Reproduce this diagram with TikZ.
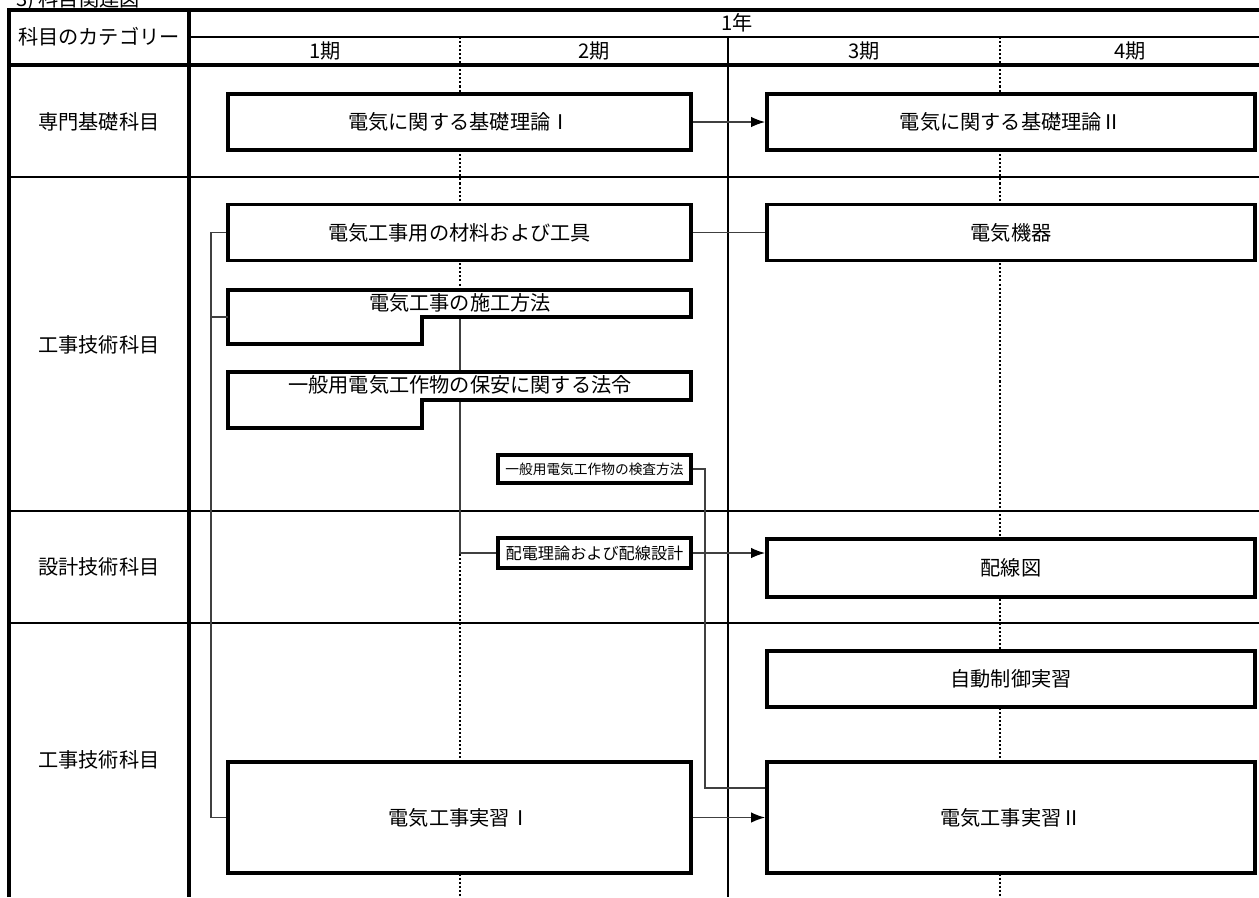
\documentclass[tikz,border=0pt]{standalone}
\usepackage{fontspec}
\setmainfont{Noto Sans CJK JP}
\usetikzlibrary{arrows.meta}
\tikzset{
    subj/.style={draw, fill=white, line width=2.2pt, inner sep=0pt, minimum height=1.12cm},
    lbox/.style={subj, minimum width=9.26cm},
    rbox/.style={subj, minimum width=9.76cm},
    tinybox/.style={subj, minimum width=3.86cm, minimum height=0.56cm, font=\fontsize{7.8pt}{9pt}\selectfont},
    link/.style={draw=black!75, line width=0.85pt},
    tip/.style={-{Latex[length=8pt,width=6pt,color=black]}},
    heavy/.style={line width=2.4pt},
    rule/.style={line width=1.15pt},
    period/.style={line width=1.15pt, dash pattern=on 1.15pt off 1.15pt}
}
\begin{document}
\begin{tikzpicture}[x=0.02cm, y=-0.02cm, font=\fontsize{11.5pt}{13pt}\selectfont]
                \useasboundingbox (0,0) rectangle (1259,897);
                \node[anchor=base west] (0) at (10,6) {3) 科目関連図};
                % table
                \draw[period] (460,37) to (460,897);
                \draw[period] (1000,37) to (1000,897);
                \draw[rule] (728,37) to (728,897);
                \draw[rule] (189,37) to (1259,37);
                \draw[rule] (9,177) to (1259,177);
                \draw[rule] (9,511) to (1259,511);
                \draw[rule] (9,623) to (1259,623);
                \draw[heavy] (9,897) to (9,10) to (1259,10);
                \draw[heavy] (9,65) to (1259,65);
                \draw[heavy] (189,10) to (189,897);
                \node (1) at (99,37) {科目のカテゴリー};
                \node (2) at (737,23) {1年};
                \node (3) at (325,51) {1期};
                \node (4) at (594,51) {2期};
                \node (5) at (864,51) {3期};
                \node (6) at (1130,51) {4期};
                \node (7) at (99,122) {専門基礎科目};
                \node (8) at (99,345) {工事技術科目};
                \node (9) at (99,567) {設計技術科目};
                \node (10) at (99,760) {工事技術科目};
                % hidden under the boxes
                \coordinate (15s) at (460,317);
                \coordinate (18w) at (498,553);
                \draw[link] (15s) |- (18w);
                % subjects
                \node[lbox] (11) at (459.5,122) {電気に関する基礎理論Ⅰ};
                \node[rbox] (12) at (1011,122) {電気に関する基礎理論Ⅱ};
                \node[lbox] (13) at (459.5,232.5) {電気工事用の材料および工具};
                \node[rbox] (14) at (1011,232.5) {電気機器};
                \draw[line width=2.2pt, fill=white] (228,290) -- (691,290) -- (691,317) -- (422,317) -- (422,344) -- (228,344) -- cycle;
                \node (15) at (460,303) {電気工事の施工方法};
                \draw[line width=2.2pt, fill=white] (228,372) -- (691,372) -- (691,400) -- (422,400) -- (422,428) -- (228,428) -- cycle;
                \node (16) at (460,385) {一般用電気工作物の保安に関する法令};
                \node[tinybox] (17) at (594.5,469) {一般用電気工作物の検査方法};
                \node[tinybox, minimum height=0.6cm, font=\fontsize{9.2pt}{11pt}\selectfont] (18) at (594.5,553) {配電理論および配線設計};
                \node[rbox, minimum height=1.16cm] (19) at (1011,568) {配線図};
                \node[rbox] (20) at (1011,679) {自動制御実習};
                \node[lbox, minimum height=2.22cm] (21) at (459.5,817.5) {電気工事実習Ⅰ};
                \node[rbox, minimum height=2.22cm] (22) at (1011,817.5) {電気工事実習Ⅱ};
                % links
                \coordinate (rail) at (211,0);
                \coordinate (15w) at (228,317);
                \coordinate (bend) at (705,788);
                \draw[link, tip] (11) to (12);
                \draw[link] (13) to (14);
                \draw[link, tip] (21) to (22);
                \draw[link] (13.west) to (13.west -| rail) to (21.west -| rail) to (21.west);
                \draw[link] (15w) to (15w -| rail);
                \draw[link, tip] (18.east) to (18.east -| 19.west);
                \draw[link] (17.east) -| (bend) to (bend -| 22.west);
    \end{tikzpicture}
\end{document}
